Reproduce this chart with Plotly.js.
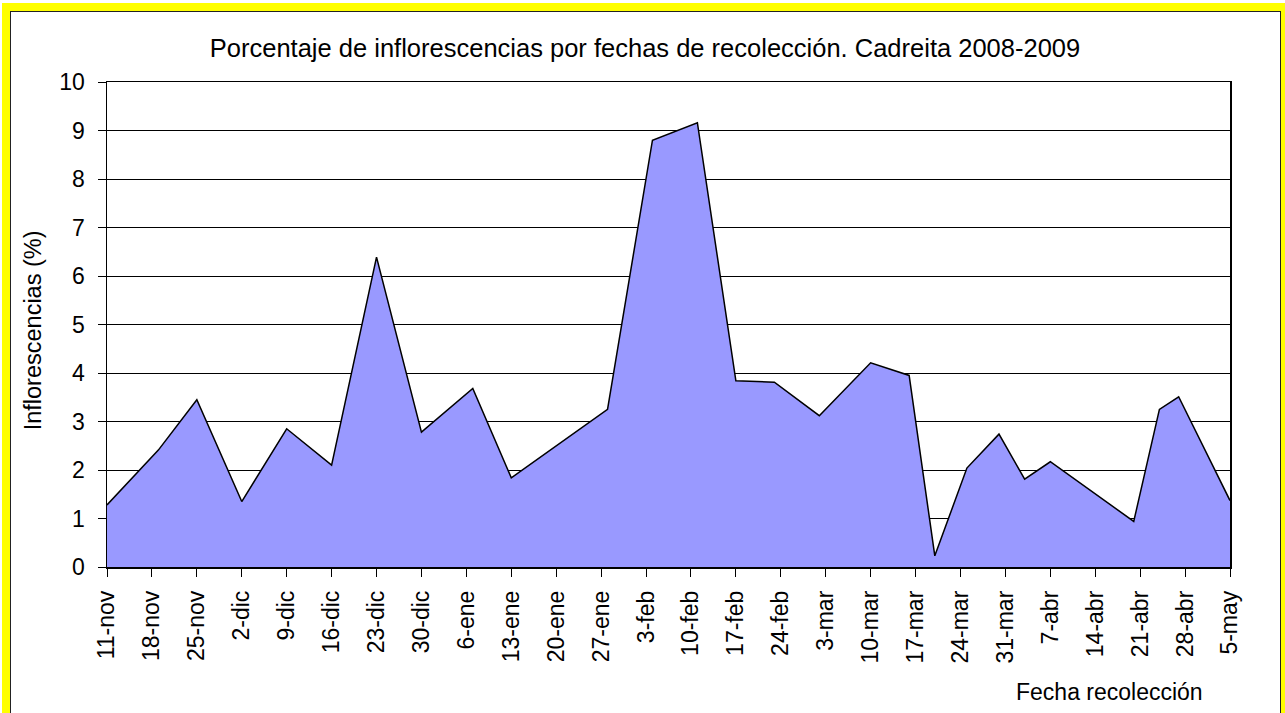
<!DOCTYPE html>
<html>
<head>
<meta charset="utf-8">
<script src="https://cdn.plot.ly/plotly-3.0.1.min.js"></script>
<style>
  html, body { margin: 0; padding: 0; background: #ffffff; width: 1285px; height: 713px; overflow: hidden; }
  #yellow { position: absolute; left: 2px; top: 3px; width: 1283px; height: 712px; background: #ffff00; }
  #frame { position: absolute; left: 10px; top: 11px; width: 1271px; height: 703px; background: #ffffff; border: 1.5px solid #222; box-sizing: border-box; }
  #chart { position: absolute; left: 11px; top: 12px; width: 1268px; height: 700px; }
</style>
</head>
<body>
<div id="yellow"></div>
<div id="frame"></div>
<div id="chart"></div>
<script>
// Collection dates and percentage of inflorescences
const fechas = [
  '2008-11-11', '2008-11-19', '2008-11-25', '2008-12-02', '2008-12-09',
  '2008-12-16', '2008-12-23', '2008-12-30', '2009-01-07', '2009-01-13',
  '2009-01-28', '2009-02-04', '2009-02-11', '2009-02-17', '2009-02-23',
  '2009-03-02', '2009-03-10', '2009-03-16', '2009-03-20', '2009-03-25',
  '2009-03-30', '2009-04-03', '2009-04-07', '2009-04-20', '2009-04-24',
  '2009-04-27', '2009-05-05'
];
const inflorescencias = [
  1.28, 2.41, 3.45, 1.35, 2.85,
  2.10, 6.39, 2.78, 3.68, 1.84,
  3.25, 8.80, 9.16, 3.84, 3.81,
  3.12, 4.21, 3.95, 0.23, 2.04,
  2.74, 1.81, 2.17, 0.94, 3.25,
  3.51, 1.37
];

// Weekly tick positions and their labels
const tickFechas = [
  '2008-11-11', '2008-11-18', '2008-11-25', '2008-12-02', '2008-12-09',
  '2008-12-16', '2008-12-23', '2008-12-30', '2009-01-06', '2009-01-13',
  '2009-01-20', '2009-01-27', '2009-02-03', '2009-02-10', '2009-02-17',
  '2009-02-24', '2009-03-03', '2009-03-10', '2009-03-17', '2009-03-24',
  '2009-03-31', '2009-04-07', '2009-04-14', '2009-04-21', '2009-04-28',
  '2009-05-05'
];
const tickTextos = [
  '11-nov', '18-nov', '25-nov', '2-dic', '9-dic',
  '16-dic', '23-dic', '30-dic', '6-ene', '13-ene',
  '20-ene', '27-ene', '3-feb', '10-feb', '17-feb',
  '24-feb', '3-mar', '10-mar', '17-mar', '24-mar',
  '31-mar', '7-abr', '14-abr', '21-abr', '28-abr',
  '5-may'
];
const yTicks = [0, 1, 2, 3, 4, 5, 6, 7, 8, 9, 10];

const FONT = 'Liberation Sans, Arial, sans-serif';

const trace = {
  type: 'scatter',
  mode: 'lines',
  x: fechas,
  y: inflorescencias,
  fill: 'tozeroy',
  fillcolor: '#9999ff',
  line: { color: '#000000', width: 1.5, shape: 'linear' },
  hoverinfo: 'x+y'
};

const layout = {
  width: 1268,
  height: 700,
  margin: { l: 96, r: 49, t: 70, b: 145, pad: 0 },
  paper_bgcolor: 'rgba(0,0,0,0)',
  plot_bgcolor: '#ffffff',
  showlegend: false,
  font: { family: FONT, color: '#000000', size: 23 },
  title: {
    text: 'Porcentaje de inflorescencias por fechas de recolección. Cadreita 2008-2009',
    font: { family: FONT, size: 25.5, color: '#000000' },
    x: 0.5, xanchor: 'center',
    yref: 'container', y: 0.949, yanchor: 'middle'
  },
  xaxis: {
    type: 'date',
    range: [tickFechas[0], tickFechas[tickFechas.length - 1]],
    tickmode: 'array',
    tickvals: tickFechas,
    ticktext: tickTextos,
    tickangle: -90,
    ticks: 'outside',
    ticklen: 8,
    tickwidth: 1,
    tickcolor: '#000000',
    ticklabelstandoff: 5,
    tickfont: { family: FONT, size: 23, color: '#000000' },
    showgrid: false,
    showline: true,
    linecolor: '#000000',
    linewidth: 1.5,
    mirror: true,
    zeroline: false,
    fixedrange: true
  },
  yaxis: {
    range: [0, 10],
    tickmode: 'array',
    tickvals: yTicks,
    ticktext: yTicks.map(String),
    ticks: 'outside',
    ticklen: 8,
    tickwidth: 1,
    tickcolor: '#000000',
    ticklabelstandoff: 8,
    tickfont: { family: FONT, size: 23, color: '#000000' },
    showgrid: true,
    gridcolor: '#000000',
    gridwidth: 1,
    showline: true,
    linecolor: '#000000',
    linewidth: 1.5,
    mirror: true,
    zeroline: false,
    fixedrange: true
  },
  annotations: [{
    text: 'Inflorescencias (%)',
    xref: 'paper', yref: 'paper',
    x: -0.0659, y: 0.488,
    xanchor: 'center', yanchor: 'middle',
    textangle: -90,
    showarrow: false,
    font: { family: FONT, size: 23.5, color: '#000000' }
  }, {
    text: 'Fecha recolección',
    xref: 'paper', yref: 'paper',
    x: 0.9777, y: -0.258,
    xanchor: 'right', yanchor: 'middle',
    showarrow: false,
    font: { family: FONT, size: 23, color: '#000000' }
  }]
};

Plotly.newPlot('chart', [trace], layout, { displayModeBar: false, staticPlot: true });
</script>
</body>
</html>
